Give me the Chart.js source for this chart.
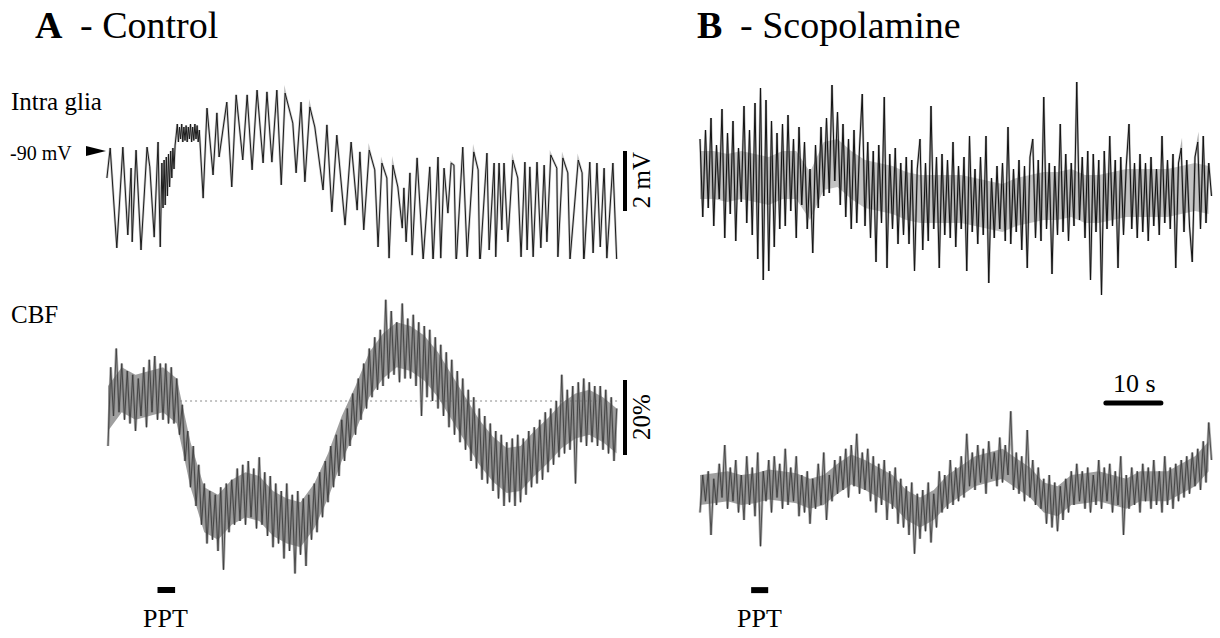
<!DOCTYPE html>
<html>
<head>
<meta charset="utf-8">
<script src="https://cdn.jsdelivr.net/npm/chart.js@4.4.1/dist/chart.umd.min.js"></script>
<style>
html, body { margin: 0; padding: 0; background: #fff; overflow: hidden; }
body { width: 1220px; height: 638px; position: relative; font-family: "Liberation Serif", "Times New Roman", serif; color: #000; }
canvas { position: absolute; }
.lbl { position: absolute; white-space: nowrap; }
.rot { position: absolute; white-space: nowrap; transform: translate(-50%, -50%) rotate(-90deg); }
</style>
</head>
<body>

<div class="lbl" style="left:35px; top:6px; font-size:38px; line-height:38px; font-weight:bold;">A</div>
<div class="lbl" style="left:80px; top:6px; font-size:38px; line-height:38px;">- Control</div>
<div class="lbl" style="left:697px; top:6px; font-size:38px; line-height:38px; font-weight:bold;">B</div>
<div class="lbl" style="left:740px; top:6px; font-size:38px; line-height:38px;">- Scopolamine</div>

<div class="lbl" style="left:11px; top:89px; font-size:25px; line-height:25px;">Intra glia</div>
<div class="lbl" style="left:10px; top:143px; font-size:20px; line-height:20px;">-90 mV</div>
<div style="position:absolute; left:86px; top:146px; width:0; height:0; border-left:20px solid #000; border-top:5px solid transparent; border-bottom:5px solid transparent;"></div>
<div class="lbl" style="left:11px; top:302px; font-size:25px; line-height:25px;">CBF</div>

<div class="rot" style="left:641px; top:180px; font-size:25px; line-height:25px;">2 mV</div>
<div class="rot" style="left:641px; top:417px; font-size:25px; line-height:25px;">20%</div>

<div class="lbl" style="left:1113px; top:371px; font-size:26px; line-height:26px;">10 s</div>
<div class="lbl" style="left:143px; top:606px; font-size:26px; line-height:26px;">PPT</div>
<div class="lbl" style="left:737px; top:606px; font-size:26px; line-height:26px;">PPT</div>

<canvas id="glia" width="550" height="180" style="left:97px; top:79px;"></canvas>
<canvas id="cbfA" width="550" height="310" style="left:97px; top:290px;"></canvas>
<canvas id="scopTop" width="531" height="240" style="left:689px; top:70px;"></canvas>
<canvas id="scopBot" width="531" height="205" style="left:689px; top:395px;"></canvas>

<script>
// ── Data ───────────────────────────────────────────────────────
// A - Control, intracellular glia (time s, membrane potential mV)
const gliaT = [
  -0.2, 0.4, 1.6, 2.7, 3.6, 4.2, 4.4, 5.1, 6.0, 7.1, 7.6, 8.4, 9.1, 9.5,
  9.8, 10.0, 10.2, 10.4, 10.6, 10.8, 11.0, 11.2, 11.4, 11.6, 11.8, 12.0, 12.2, 12.4,
  12.6, 12.8, 13.0, 13.2, 13.4, 13.6, 13.8, 14.0, 14.2, 14.4, 14.6, 14.8, 15.0, 15.2,
  15.4, 15.6, 15.8, 16.0, 16.2, 16.4, 16.6,
  17.3, 18.0, 19.1, 19.8, 20.2, 21.6, 22.5, 23.3, 24.5, 25.3, 26.2, 27.1, 28.2, 28.9,
  29.8, 30.7, 31.5, 32.2, 33.6, 34.2, 35.1, 35.8, 36.7, 37.6, 39.1, 39.8, 40.7, 41.6,
  43.1, 44.2, 45.3, 45.8, 46.5, 47.5, 48.5, 49.1, 49.8, 50.7, 51.1, 51.8, 52.7, 53.5,
  53.8, 54.2, 54.9, 55.3, 56.2, 57.3, 58.5, 59.1, 60.0, 60.5, 61.1, 61.8, 62.4, 62.9,
  63.3, 64.5, 65.3, 66.5, 67.3, 67.6, 68.9, 69.3, 70.2, 70.5, 71.1, 71.6, 72.0, 72.7,
  73.6, 74.5, 75.1, 75.8, 76.2, 76.7, 77.3, 78.0, 78.7, 79.3, 79.8, 80.5, 81.6, 81.8,
  82.7, 83.6, 84.0, 85.5, 86.2, 86.5, 87.6, 88.2, 88.9, 89.5, 90.2, 90.7, 91.8, 92.5
];
const gliaMV = [
  -90.90, -89.90, -93.23, -89.87, -92.80, -90.57, -93.03, -89.97, -93.30, -89.87, -90.53, -92.87, -89.70, -93.20,
  -90.40, -91.90, -90.30, -91.80, -90.20, -91.50, -90.10, -91.20, -90.00, -90.90, -89.90, -90.60, -89.80, -89.47,
  -89.10, -89.70, -89.20, -89.60, -89.10, -89.70, -89.20, -89.65, -89.15, -89.70, -89.20, -89.60, -89.10, -89.70,
  -89.20, -89.65, -89.10, -89.60, -89.15, -89.70, -89.30,
  -91.57, -88.57, -90.80, -88.73, -90.20, -88.37, -91.20, -88.13, -90.30, -88.13, -90.63, -87.97, -90.40, -88.03,
  -90.37, -87.97, -91.13, -88.07, -89.07, -90.73, -88.37, -91.03, -88.53, -89.20, -91.30, -89.13, -92.03, -89.47,
  -92.47, -89.70, -91.97, -90.03, -92.63, -89.97, -90.63, -93.20, -90.40, -90.90, -93.57, -90.47, -91.20, -92.57,
  -91.23, -93.03, -90.73, -93.47, -90.23, -93.63, -90.53, -93.73, -90.20, -93.57, -90.57, -92.07, -90.40, -90.47,
  -93.80, -89.87, -93.53, -90.03, -90.63, -93.87, -90.07, -93.30, -90.40, -93.53, -90.40, -92.63, -90.40, -93.03,
  -90.30, -90.90, -93.53, -90.37, -93.30, -90.53, -93.53, -90.37, -93.23, -90.47, -93.03, -90.13, -90.57, -93.53,
  -90.23, -90.73, -93.63, -90.30, -90.73, -93.80, -90.37, -93.40, -90.40, -93.20, -90.57, -93.57, -90.40, -93.70
];

// A - Control, CBF (% change), one sample every 0.5 s
const cbfStep = 0.5;
const cbfControl = [
  -12, 9, -4, 14, -3, 10, -5, 8, -6, 7,
  -8, 6, -4, 9, -7, 11, -3, 12, -5, 10,
  -5, 10, -6, 9, -6, 6, -9, -1, -16, -8,
  -23, -12, -28, -17, -33, -22, -38, -24, -37, -25,
  -40, -23, -45, -22, -35, -21, -33, -18, -32, -17,
  -33, -16, -31, -18, -34, -15, -33, -19, -36, -20,
  -39, -22, -38, -24, -42, -22, -40, -25, -46, -24,
  -41, -26, -44, -25, -37, -22, -35, -19, -31, -16,
  -27, -12, -23, -9, -20, -5, -16, -2, -12, 2,
  -9, 6, -5, 10, -2, 14, 1, 17, 3, 19,
  4, 27, 6, 24, 7, 21, 5, 26, 6, 22,
  6, 23, 4, 21, -4, 20, 1, 19, 0, 17,
  -2, 15, -4, 13, -7, 11, -9, 8, -11, 6,
  -13, 3, -16, 1, -18, -2, -21, -4, -22, -6,
  -24, -8, -26, -9, -28, -11, -27, -10, -28, -9,
  -27, -10, -25, -8, -23, -7, -22, -5, -21, -3,
  -19, -2, -17, 0, -15, 7, -14, 3, -13, 4,
  -22, 5, -11, 6, -12, 5, -11, 4, -12, 4,
  -13, 3, -14, 1, -16, -2
];
// dense core of the CBF band, one reading every 2.5 s
const bandStep = 2.5;
const cbfControlHi = [
  4, 9, 7, 8, 9, 6, -11, -23, -25, -21, -19, -20, -24, -26, -27, -22, -14, -4, 4,
  13, 18, 21, 20, 17.5, 13, 7, 1, -5, -9.5, -12.5, -12, -8, -4.5, -0.5, 2, 3, 1, -2
];
const cbfControlLo = [
  -8, -3, -5, -4, -3, -6, -23, -35, -37, -33, -31, -32, -36, -38, -39, -34, -26, -16, -8,
  1, 6, 9, 8, 5.5, 1, -5, -11, -17, -21.5, -24.5, -24, -20, -16.5, -12.5, -10, -9, -11, -14
];

// B - Scopolamine, intracellular (mV), one sample every 0.5 s
const scopStep = 0.5;
const scopGlia = [
  -89.6, -92.2, -89.3, -91.9, -88.9, -92.5, -89.8, -91.6, -88.6, -92.9,
  -89.4, -92.1, -89.0, -93.0, -89.9, -91.7, -88.5, -92.4, -89.3, -92.8,
  -88.4, -93.6, -87.9, -94.3, -88.3, -94.0, -89.0, -93.2, -89.4, -92.6,
  -89.1, -92.5, -88.8, -92.0, -89.6, -92.9, -89.2, -91.8, -89.7, -92.6,
  -90.6, -93.4, -89.8, -91.9, -89.2, -91.5, -88.9, -91.4, -87.8, -91.0,
  -88.7, -91.8, -89.1, -92.2, -89.6, -92.6, -89.3, -92.4, -89.9, -88.1,
  -92.5, -89.7, -92.9, -90.0, -93.7, -89.8, -92.4, -88.2, -93.9, -90.1,
  -92.6, -89.9, -93.1, -90.4, -92.8, -90.2, -93.1, -90.3, -94.0, -90.6,
  -89.6, -93.3, -90.4, -93.0, -88.5, -92.6, -90.2, -93.9, -90.1, -92.8,
  -90.3, -92.9, -89.7, -93.2, -90.5, -92.6, -90.2, -94.0, -89.5, -92.7,
  -90.6, -93.1, -90.2, -92.8, -89.5, -94.4, -90.9, -92.9, -90.5, -92.6,
  -90.4, -93.0, -89.2, -93.1, -90.6, -92.7, -90.3, -93.3, -90.5, -93.9,
  -90.2, -89.6, -92.9, -90.3, -93.0, -88.2, -92.6, -90.4, -94.1, -90.5,
  -92.8, -89.1, -92.7, -90.1, -93.0, -90.4, -92.5, -87.7, -92.3, -90.2,
  -92.9, -90.0, -94.3, -90.1, -92.7, -90.3, -94.8, -90.0, -92.6, -89.5,
  -92.5, -90.3, -93.9, -90.2, -92.8, -90.5, -89.1, -92.6, -90.4, -92.9,
  -90.1, -92.7, -90.4, -93.0, -90.2, -92.5, -90.6, -92.8, -89.5, -92.4,
  -90.3, -92.6, -90.1, -93.9, -90.4, -89.9, -92.7, -90.3, -92.5, -93.7,
  -90.2, -89.7, -92.6, -89.5, -92.4, -90.4, -91.5
];
const scopGliaHi = [
  -90.0, -90.0, -90.1, -90.0, -90.1, -90.2, -90.0, -90.0, -90.7, -89.7, -89.6, -90.0, -90.3,
  -90.4, -90.5, -90.7, -90.8, -90.8, -90.8, -90.8, -90.9, -91.0, -91.1, -90.9, -90.8, -90.7,
  -90.7, -90.6, -90.8, -90.8, -90.7, -90.6, -90.6, -90.6, -90.6, -90.5, -90.4, -90.5
];
const scopGliaLo = [
  -91.6, -91.6, -91.7, -91.6, -91.7, -91.8, -91.6, -91.6, -92.3, -91.3, -91.2, -91.6, -91.9,
  -92.0, -92.1, -92.3, -92.4, -92.4, -92.4, -92.4, -92.5, -92.6, -92.7, -92.5, -92.4, -92.3,
  -92.3, -92.2, -92.4, -92.4, -92.3, -92.2, -92.2, -92.2, -92.2, -92.1, -92.0, -92.1
];

// B - Scopolamine, CBF (% change), one sample every 0.5 s
const scopCbf = [
  -6, 4, -3, 5, -12, 3, -4, 7, -2, 12,
  -5, 6, -3, 8, -6, 4, -8, 9, -4, 6,
  -7, 10, -15, 5, -3, 8, -6, 9, -2, 7,
  -5, 11, -4, 6, -3, 9, -7, 4, -6, 5,
  -9, 3, -5, 7, -4, 10, -8, 4, -3, 8,
  -1, 9, 0, 11, -2, 12, 1, 15, -1, 10,
  0, 11, -3, 9, -6, 7, -4, 8, -8, 5,
  -5, 6, -9, 3, -10, 1, -12, 2, -17, -1,
  -13, 0, -11, 2, -14, -1, -10, 5, -6, 4,
  -5, 8, -4, 6, -3, 9, -2, 15, 1, 10,
  0, 12, 2, 11, -1, 13, 3, 10, 1, 14,
  2, 12, 4, 21, 0, 10, -1, 9, -3, 16,
  -2, 8, -4, 6, -5, 3, -9, 4, -10, 2,
  -11, 1, -8, 3, -6, 5, -4, 7, -3, 5,
  -5, 6, -6, 4, -4, 8, -5, 6, -3, 7,
  -6, 5, -4, 9, -12, 4, -5, 6, -4, 5,
  -6, 7, -3, 6, -5, 8, -4, 5, -6, 9,
  -4, 6, -5, 7, -3, 8, -2, 9, -1, 10,
  1, 11, 0, 13, 2, 18, 8
];
const scopCbfHi = [
  4, 4.5, 5, 4, 4.5, 5.5, 5, 4.5, 3, 4, 7, 9.5, 8, 6, 4, 0, -2, 0, 4,
  6.5, 9, 10, 11, 8.5, 6, 2, 1, 4, 4.5, 5, 4, 3, 5, 5, 5, 7, 9, 13
];
const scopCbfLo = [
  -4, -3.5, -3, -4, -3.5, -2.5, -3, -3.5, -5, -4, -1, 1.5, 0, -2, -4, -8, -10, -8, -4,
  -1.5, 1, 2, 3, 0.5, -2, -6, -7, -4, -3.5, -3, -4, -5, -3, -3, -3, -1, 1, 5
];

// Annotations (data units)
const barMV = [-90, -92];          // 2 mV calibration
const barPct = [5.6, -14.4];       // 20 % calibration
const barTime = 94;                // where calibrations sit (s)
const baselineSpan = [13.1, 92.7]; // dotted 0 % line
const pptA = [9.0, 12.2];          // PPT stimulation, control
const pptB = [9.3, 12.4];          // PPT stimulation, scopolamine
const tenSec = [73.8, 83.8];       // 10 s time bar

// ── Layout ─────────────────────────────────────────────────────
const PX_PER_S = 5.5;
const PX_PER_MV = 30;
const PX_PER_PCT = 3.75;

function sampled(values, step) {
  return values.map((v, i) => ({ x: i * step, y: v }));
}
function pairs(ts, vs) {
  return ts.map((t, i) => ({ x: t, y: vs[i] }));
}
function hline(span, y) { return [{ x: span[0], y: y }, { x: span[1], y: y }]; }
function vline(x, span) { return [{ x: x, y: span[0] }, { x: x, y: span[1] }]; }

// lower `order` is painted on top
function lineSet(data, color, width, order, extra) {
  return Object.assign({
    data: data, borderColor: color, borderWidth: width, order: order,
    pointRadius: 0, tension: 0, fill: false, clip: false
  }, extra || {});
}
// filled core band: upper edge fills down to the following (lower) dataset
function band(hi, lo, color) {
  return [
    lineSet(sampled(hi, bandStep), color, 0, 4, { fill: '+1', backgroundColor: color }),
    lineSet(sampled(lo, bandStep), color, 0, 4)
  ];
}

// refPx: pixel row (inside canvas) where refVal sits
function drawTrace(id, refPx, refVal, pxPerUnit, datasets) {
  const cv = document.getElementById(id);
  const yMax = refVal + refPx / pxPerUnit;
  const yMin = yMax - cv.height / pxPerUnit;
  new Chart(cv.getContext('2d'), {
    type: 'line',
    data: { datasets: datasets },
    options: {
      responsive: false,
      animation: false,
      events: [],
      layout: { padding: 0 },
      plugins: { legend: { display: false }, tooltip: { enabled: false } },
      scales: {
        x: { type: 'linear', display: false, min: -2, max: -2 + cv.width / PX_PER_S },
        y: { type: 'linear', display: false, min: yMin, max: yMax }
      }
    }
  });
}

// A - glia (−90 mV at page y 151, canvas top 79)
const gliaA = pairs(gliaT, gliaMV);
drawTrace('glia', 151 - 79, -90, PX_PER_MV, [
  lineSet(vline(barTime, barMV), '#000', 4, 0),
  lineSet(gliaA, '#1a1a1a', 1, 1),
  lineSet(gliaA, 'rgba(90,90,90,0.35)', 2.4, 2)
]);

// A - CBF (0 % at page y 401, canvas top 290)
const cbfA = sampled(cbfControl, cbfStep);
drawTrace('cbfA', 401 - 290, 0, PX_PER_PCT, [
  lineSet(vline(barTime, barPct), '#000', 4, 0),
  lineSet(hline(pptA, -50.4), '#000', 6, 0),
  lineSet(cbfA, '#353535', 0.8, 1),
  lineSet(cbfA, 'rgba(120,120,120,0.6)', 2.6, 2),
  ...band(cbfControlHi, cbfControlLo, 'rgba(118,118,118,0.7)'),
  lineSet(hline(baselineSpan, 0), '#8a8a8a', 1, 5, { borderDash: [2, 3] })
]);

// B - glia under scopolamine (−90 mV at page y 151, canvas top 70)
const scopA = sampled(scopGlia, scopStep);
drawTrace('scopTop', 151 - 70, -90, PX_PER_MV, [
  lineSet(scopA, '#111', 1, 1),
  lineSet(scopA, 'rgba(60,60,60,0.4)', 2.2, 2),
  ...band(scopGliaHi, scopGliaLo, 'rgba(40,40,40,0.28)')
]);

// B - CBF under scopolamine (0 % at page y 490, canvas top 395)
const scopB = sampled(scopCbf, scopStep);
drawTrace('scopBot', 490 - 395, 0, PX_PER_PCT, [
  lineSet(hline(tenSec, 23.2), '#000', 5, 0, { borderCapStyle: 'round' }),
  lineSet(hline(pptB, -26.7), '#000', 6, 0),
  lineSet(scopB, '#353535', 0.8, 1),
  lineSet(scopB, 'rgba(120,120,120,0.6)', 2.6, 2),
  ...band(scopCbfHi, scopCbfLo, 'rgba(118,118,118,0.7)')
]);
</script>
</body>
</html>
